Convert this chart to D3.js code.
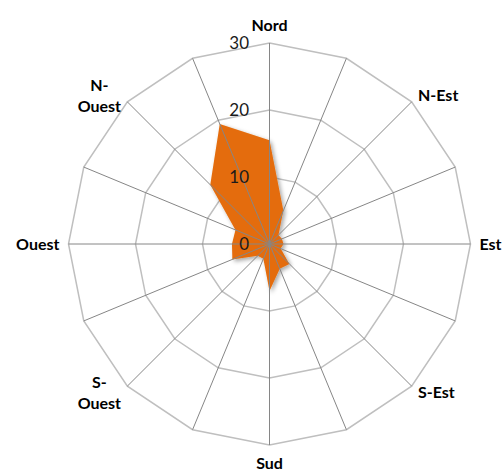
<!DOCTYPE html>
<html>
<head>
<meta charset="utf-8">
<script src="https://cdn.jsdelivr.net/npm/d3@7"></script>
<style>
  html, body { margin: 0; padding: 0; background: #fff; }
  svg { display: block; }
</style>
</head>
<body>
<svg id="chart" width="503" height="474"></svg>
<script>
// Wind directions, clockwise from north (only the eight main ones are labelled)
const directions = ["Nord", "", "N-Est", "", "Est", "", "S-Est", "",
                    "Sud", "", "S-Ouest", "", "Ouest", "", "N-Ouest", ""];
// Frequency per direction
const frequencies = [15.5, 5.4, 1.9, 2.0, 2.1, 1.8, 4.2, 4.0,
                     7.0, 2.4, 2.5, 6.0, 5.6, 5.5, 12.5, 19.4];
// Radial axis ticks
const radialTicks = [0, 10, 20, 30];

const width = 503, height = 474;
const cx = 269.5, cy = 244, outer = 201;
const tickFont = "Lato, 'Open Sans', sans-serif";
const labelFont = "Lato, 'Open Sans', sans-serif";

const svg = d3.select("#chart");

const r = d3.scaleLinear().domain([0, 30]).range([0, outer]);
const angle = d3.scaleLinear().domain([0, directions.length]).range([0, 2 * Math.PI]);

const defs = svg.append("defs");
const shadow = defs.append("filter").attr("id", "shadow")
  .attr("x", "-20%").attr("y", "-20%").attr("width", "140%").attr("height", "140%");
shadow.append("feDropShadow")
  .attr("dx", 2).attr("dy", 2).attr("stdDeviation", 2)
  .attr("flood-color", "#000").attr("flood-opacity", 0.35);

const g = svg.append("g").attr("transform", `translate(${cx},${cy})`);

// Ring gridlines (16-sided polygons)
const ring = d3.lineRadial()
  .angle((d, i) => angle(i))
  .radius(d => d)
  .curve(d3.curveLinearClosed);

g.append("g").selectAll("path")
  .data(radialTicks.filter(t => t > 0))
  .join("path")
  .attr("d", t => ring(directions.map(() => r(t))))
  .attr("fill", "none")
  .attr("stroke", "#bfbfbf")
  .attr("stroke-width", 1.5);

// Data polygon
const area = d3.lineRadial()
  .angle((d, i) => angle(i))
  .radius(d => r(d))
  .curve(d3.curveLinearClosed);

g.append("path")
  .datum(frequencies)
  .attr("d", area)
  .attr("fill", "#e46c0a")
  .attr("filter", "url(#shadow)");

// Spokes
g.append("g").selectAll("line")
  .data(directions)
  .join("line")
  .attr("x1", 0).attr("y1", 0)
  .attr("x2", (d, i) => outer * Math.sin(angle(i)))
  .attr("y2", (d, i) => -outer * Math.cos(angle(i)))
  .attr("stroke", "#868686")
  .attr("stroke-width", 1);

// Radial tick labels along the north spoke
g.append("g").selectAll("text")
  .data(radialTicks)
  .join("text")
  .attr("x", -20.5)
  .attr("y", t => -r(t))
  .attr("dy", "0.35em")
  .attr("text-anchor", "end")
  .attr("font-family", tickFont)
  .attr("font-size", 17)
  .attr("fill", "#1a1a1a")
  .text(t => t);

// Direction labels
const labelR = 210;
const lineH = 21;
const labels = g.append("g")
  .attr("font-family", labelFont)
  .attr("font-size", 16)
  .attr("font-weight", "bold")
  .attr("fill", "#000");

directions.forEach((name, i) => {
  if (!name) return;
  const a = angle(i);
  const s = Math.sin(a), c = Math.cos(a);
  const x = labelR * s, y = -labelR * c;
  const cut = name.indexOf("-") + 1;
  const lines = name.length > 5 ? [name.slice(0, cut), name.slice(cut)] : [name];
  const t = labels.append("text");
  lines.forEach(ln => t.append("tspan").text(ln));
  const spans = t.selectAll("tspan").nodes();
  const blockW = Math.max(...spans.map(n => n.getComputedTextLength()));
  let centerX;
  if (s > 0.2) centerX = x + blockW / 2;
  else if (s < -0.2) centerX = x - blockW / 2;
  else centerX = x;
  const blockH = lines.length * lineH;
  let top;
  if (Math.abs(s) <= 0.2) top = c > 0 ? y - blockH + 2 : y - 1;
  else top = y - blockH / 2;
  spans.forEach((n, k) => {
    d3.select(n)
      .attr("x", centerX)
      .attr("y", top + k * lineH + lineH / 2)
      .attr("dy", "0.35em")
      .attr("text-anchor", "middle");
  });
});
</script>
</body>
</html>
